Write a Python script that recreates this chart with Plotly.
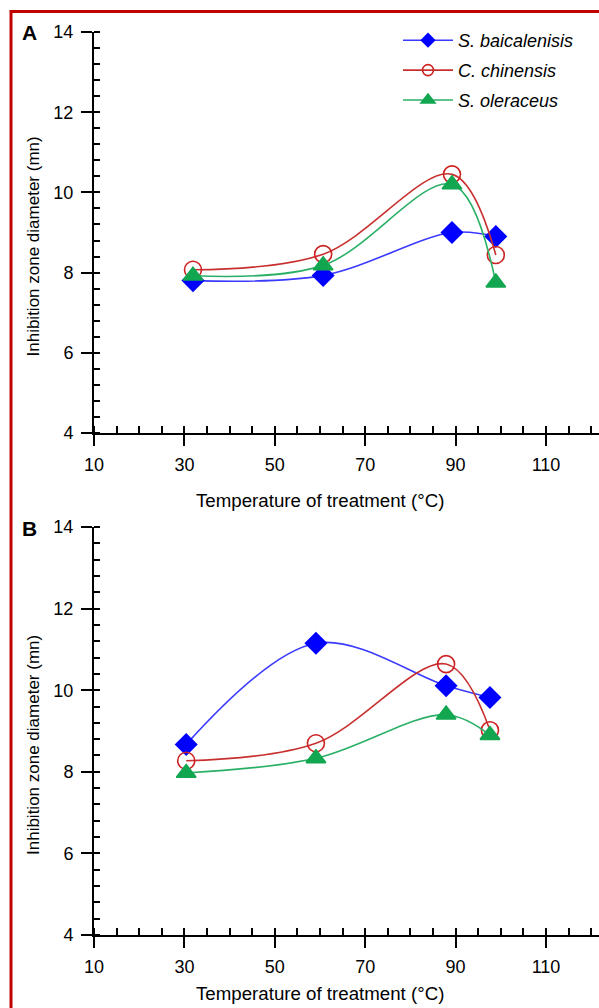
import plotly.graph_objects as go

# ---- data ----
series_names = ["S. baicalenisis", "C. chinensis", "S. oleraceus"]
temp_a = [31.9, 60.7, 89.2, 98.9]
temp_b = [30.4, 59.1, 87.9, 97.6]
a_baic = [7.80, 7.93, 9.00, 8.90]
a_chin = [8.07, 8.46, 10.45, 8.44]
a_oler = [7.92, 8.18, 10.20, 7.75]
b_baic = [8.67, 11.15, 10.11, 9.82]
b_chin = [8.27, 8.70, 10.64, 9.02]
b_oler = [7.97, 8.33, 9.40, 8.90]
x_major = [10, 30, 50, 70, 90, 110]
y_major = [4, 6, 8, 10, 12, 14]

W, H = 599, 1008
FONT = "Liberation Sans, Arial, sans-serif"
colors = ["#0000ff", "#cc2222", "#12a650"]
line_colors = ["#3a3aff", "#c83030", "#2ab066"]
symbols = ["diamond", "circle-open", "triangle-up"]
sizes = [16, 17, 17]
leg_sizes = [10, 11, 12]


def px(v):
    return v / W


def py(v):
    return 1 - v / H


fig = go.Figure()

panels = [
    ("x", "y", temp_a, [a_baic, a_chin, a_oler]),
    ("x2", "y2", temp_b, [b_baic, b_chin, b_oler]),
]
for xa, ya, temps, vals in panels:
    for i, v in enumerate(vals):
        fig.add_trace(go.Scatter(
            x=temps, y=v, xaxis=xa, yaxis=ya, mode="lines+markers",
            line=dict(color=line_colors[i], width=1.6, shape="spline", smoothing=1.0),
            marker=dict(symbol=symbols[i], size=sizes[i], color=colors[i],
                        line=dict(width=1.6, color=colors[i])),
            showlegend=False, hoverinfo="skip"))

# legend-only traces
for i, n in enumerate(series_names):
    fig.add_trace(go.Scatter(
        x=[None], y=[None], xaxis="x", yaxis="y", mode="lines+markers",
        name="<i>" + n + "</i>", legendgroup=str(i),
        line=dict(color=line_colors[i], width=1.6),
        marker=dict(symbol=symbols[i], size=leg_sizes[i], color=colors[i],
                    line=dict(width=1.6, color=colors[i]))))

# dummy traces so the overlay axes get drawn
fig.add_trace(go.Scatter(x=[None], y=[None], xaxis="x3", yaxis="y3", showlegend=False))
fig.add_trace(go.Scatter(x=[None], y=[None], xaxis="x4", yaxis="y4", showlegend=False))

x_left = 94
x_scale = 4.52
x_range = [10, 10 + (W - x_left) / x_scale]

ax_common = dict(showgrid=False, zeroline=False, showline=True, linecolor="black",
                 linewidth=2, tickcolor="black", tickwidth=1.6,
                 tickfont=dict(family=FONT, size=18, color="black"))

def xaxis_main(yanchor):
    return dict(ax_common, domain=[px(x_left), 1], range=x_range, anchor=yanchor,
                tickmode="array", tickvals=x_major, ticks="outside", ticklen=11,
                ticklabelstandoff=3,
                minor=dict(tickmode="linear", tick0=10, dtick=5, ticks="inside",
                           ticklen=7, tickwidth=1.6, tickcolor="black"))

def xaxis_over(base, yanchor):
    return dict(showgrid=False, zeroline=False, showline=False, overlaying=base,
                range=x_range, anchor=yanchor, tickmode="array", tickvals=x_major[1:],
                ticks="inside", ticklen=7, tickwidth=1.6, tickcolor="black",
                showticklabels=False)

def yaxis_main(top, bottom, xanchor):
    return dict(ax_common, domain=[py(bottom), py(top)], range=[4, 14], anchor=xanchor,
                tickmode="array", tickvals=y_major, ticks="outside", ticklen=11,
                ticklabelstandoff=4,
                minor=dict(tickmode="linear", tick0=4, dtick=0.4, ticks="inside",
                           ticklen=6, tickwidth=1.6, tickcolor="black"))

def yaxis_over(base, xanchor):
    return dict(showgrid=False, zeroline=False, showline=False, overlaying=base,
                range=[4, 14], anchor=xanchor, tickmode="array", tickvals=y_major[1:-1],
                ticks="inside", ticklen=6, tickwidth=1.6, tickcolor="black",
                showticklabels=False)

A_top, A_bot = 32, 433
B_top, B_bot = 527, 935

annotations = []
for lab, top, bot, xt_y in [("A", A_top, A_bot, 500), ("B", B_top, B_bot, 993)]:
    annotations.append(dict(text="<b>" + lab + "</b>", x=px(29), y=py(top + 1),
                            xref="paper", yref="paper", showarrow=False,
                            xanchor="center", yanchor="middle",
                            font=dict(family=FONT, size=21, color="black")))
    annotations.append(dict(text="Inhibition zone diameter (mn)", x=px(33),
                            y=py((top + bot) / 2 + 14), xref="paper", yref="paper",
                            showarrow=False, textangle=-90,
                            xanchor="center", yanchor="middle",
                            font=dict(family=FONT, size=17, color="black")))
    annotations.append(dict(text="Temperature of treatment (°C)", x=px(320),
                            y=py(xt_y), xref="paper", yref="paper",
                            showarrow=False, xanchor="center", yanchor="middle",
                            font=dict(family=FONT, size=18.7, color="black")))

shapes = [
    dict(type="line", xref="paper", yref="paper", x0=px(11), x1=1.01, y0=py(11.5), y1=py(11.5),
         line=dict(color="#c00000", width=3)),
    dict(type="line", xref="paper", yref="paper", x0=px(11), x1=px(11), y0=py(10), y1=-0.01,
         line=dict(color="#c00000", width=3)),
]

fig.update_layout(
    width=W, height=H, margin=dict(l=0, r=0, t=0, b=0, autoexpand=False),
    plot_bgcolor="white", paper_bgcolor="white",
    font=dict(family=FONT, color="black"),
    xaxis=xaxis_main("y"), yaxis=yaxis_main(A_top, A_bot, "x"),
    xaxis2=xaxis_main("y2"), yaxis2=yaxis_main(B_top, B_bot, "x2"),
    xaxis3=xaxis_over("x", "y"), yaxis3=yaxis_over("y", "x"),
    xaxis4=xaxis_over("x2", "y2"), yaxis4=yaxis_over("y2", "x2"),
    legend=dict(x=px(398), y=py(22), xanchor="left", yanchor="top",
                bgcolor="rgba(0,0,0,0)", traceorder="grouped", tracegroupgap=3.5,
                itemwidth=50,
                font=dict(family=FONT, size=18, color="black")),
    annotations=annotations, shapes=shapes,
)

fig.write_html("out.html", config={"displayModeBar": False},
               post_script="document.body.style.margin='0px';")
